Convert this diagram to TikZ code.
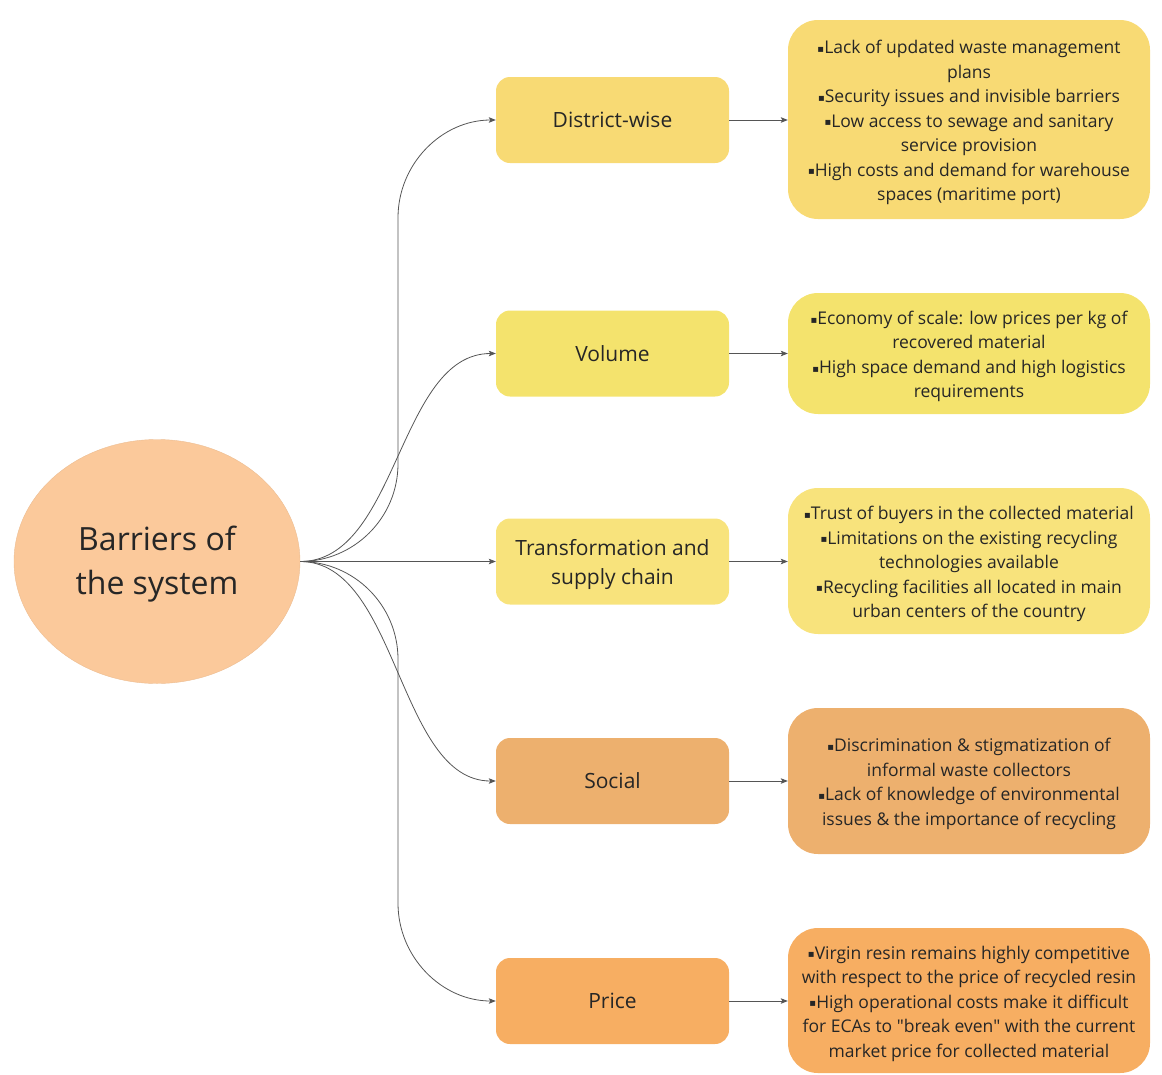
\documentclass[tikz,border=0pt]{standalone}
\usepackage{fontspec}
\setmainfont{Open Sans}[Ligatures=TeXOff]
\newfontfamily\symfont{DejaVu Sans}
\usetikzlibrary{arrows.meta,calc,shapes.geometric}

\definecolor{ink}{HTML}{262626}
\definecolor{wire}{HTML}{555555}
\definecolor{peach}{HTML}{FBC99B}
\definecolor{districtfill}{HTML}{F8DA74}
\definecolor{volumefill}{HTML}{F4E36D}
\definecolor{chainfill}{HTML}{F8E37C}
\definecolor{socialfill}{HTML}{EDB06E}
\definecolor{pricefill}{HTML}{F7AE62}

% small square bullet
\newcommand{\bul}{\raisebox{1.2pt}{\symfont\fontsize{10}{10}\selectfont\char"25AA}}
% invisible strut that sets the height of a first line
\newcommand{\lift}[1]{\rule{0pt}{#1}}

\tikzset{
  hub/.style={ellipse, fill=peach, draw=peach!94!black, line width=0.4pt,
    minimum width=286pt, minimum height=244pt, inner sep=0pt,
    align=center, text=ink, font=\fontsize{32}{44}\selectfont},
  topic/.style={rounded corners=14pt, minimum width=233pt, minimum height=86pt,
    inner sep=0pt, align=center, text=ink, font=\fontsize{21}{29}\selectfont},
  detail/.style={rounded corners=30pt, minimum width=362pt, inner sep=0pt,
    align=center, text=ink, font=\fontsize{17.5}{24.5}\selectfont},
  link/.style={draw=wire, line width=0.8pt,
    -{Stealth[length=7pt,width=5.5pt,inset=1.5pt]}},
  % horizontal exit, rounded corner, vertical run, rounded corner, horizontal entry
  branch/.style={to path={
    let \p1=(\tikztostart), \p2=(\tikztotarget),
        \n1={0.5*(\x1+\x2)}, \n2={0.5*(\x2-\x1)},
        \n3={sign(\y2-\y1)*min(0.5*(\x2-\x1),0.5*abs(\y2-\y1))} in
    .. controls (\x1+0.552*\n2,\y1) and (\n1,\y1+0.448*\n3) .. (\n1,\y1+\n3)
    -- (\n1,\y2-\n3)
    .. controls (\n1,\y2-0.448*\n3) and (\x2-0.552*\n2,\y2) .. (\tikztotarget)}},
  % single S-shaped curve with horizontal ends
  swing/.style={to path={
    let \p1=(\tikztostart), \p2=(\tikztotarget), \n1={0.5*(\x1+\x2)} in
    .. controls (\n1,\y1) and (\n1,\y2) .. (\tikztotarget)}}
}

\begin{document}
\begin{tikzpicture}[x=1pt,y=-1pt]
\useasboundingbox (0,0) rectangle (1162,1074);

\node[hub] (hub) at (157,561.5) {\lift{30.3pt}Barriers of\\the system};

\node[topic, fill=districtfill] (t1) at (612.5,120) {District-wise};
\node[topic, fill=volumefill]   (t2) at (612.5,353.5) {Volume};
\node[topic, fill=chainfill]    (t3) at (612.5,561.5) {\lift{22pt}Transformation and\\supply chain};
\node[topic, fill=socialfill]   (t4) at (612.5,781) {Social};
\node[topic, fill=pricefill]    (t5) at (612.5,1001) {Price};

\node[detail, fill=districtfill, minimum height=199pt] (d1) at (969,119.5)
  {\lift{19.5pt}\bul Lack of updated waste management\\plans\\\bul Security issues and invisible barriers\\\bul Low access to sewage and sanitary\\service provision\\\bul High costs and demand for warehouse\\spaces (maritime port)};
\node[detail, fill=volumefill, minimum height=121pt] (d2) at (969,353.5)
  {\lift{19.5pt}\bul Economy of scale: low prices per kg of\\recovered material\\\bul High space demand and high logistics\\requirements};
\node[detail, fill=chainfill, minimum height=146pt] (d3) at (969,561)
  {\lift{19.5pt}\bul Trust of buyers in the collected material\\\bul Limitations on the existing recycling\\technologies available\\\bul Recycling facilities all located in main\\urban centers of the country};
\node[detail, fill=socialfill, minimum height=146pt] (d4) at (969,781)
  {\lift{19.5pt}\bul Discrimination \& stigmatization of\\informal waste collectors\\\bul Lack of knowledge of environmental\\issues \& the importance of recycling};
\node[detail, fill=pricefill, minimum height=145pt] (d5) at (969,1000.5)
  {\lift{19.5pt}\bul Virgin resin remains highly competitive\\with respect to the price of recycled resin\\\bul High operational costs make it difficult\\for ECAs to "break even" with the current\\market price for collected material};

% fan from the central ellipse to the five topics
\draw[link] (hub.east) to[branch] (t1.west);
\draw[link] (hub.east) to[swing]  (t2.west);
\draw[link] (hub.east) to[swing]  (t3.west);
\draw[link] (hub.east) to[swing]  (t4.west);
\draw[link] (hub.east) to[branch] (t5.west);

% each topic points to its list of barriers
\foreach \i in {1,...,5} {
  \draw[link] (t\i.east) -- (t\i.east -| d\i.west);
}
\end{tikzpicture}
\end{document}
